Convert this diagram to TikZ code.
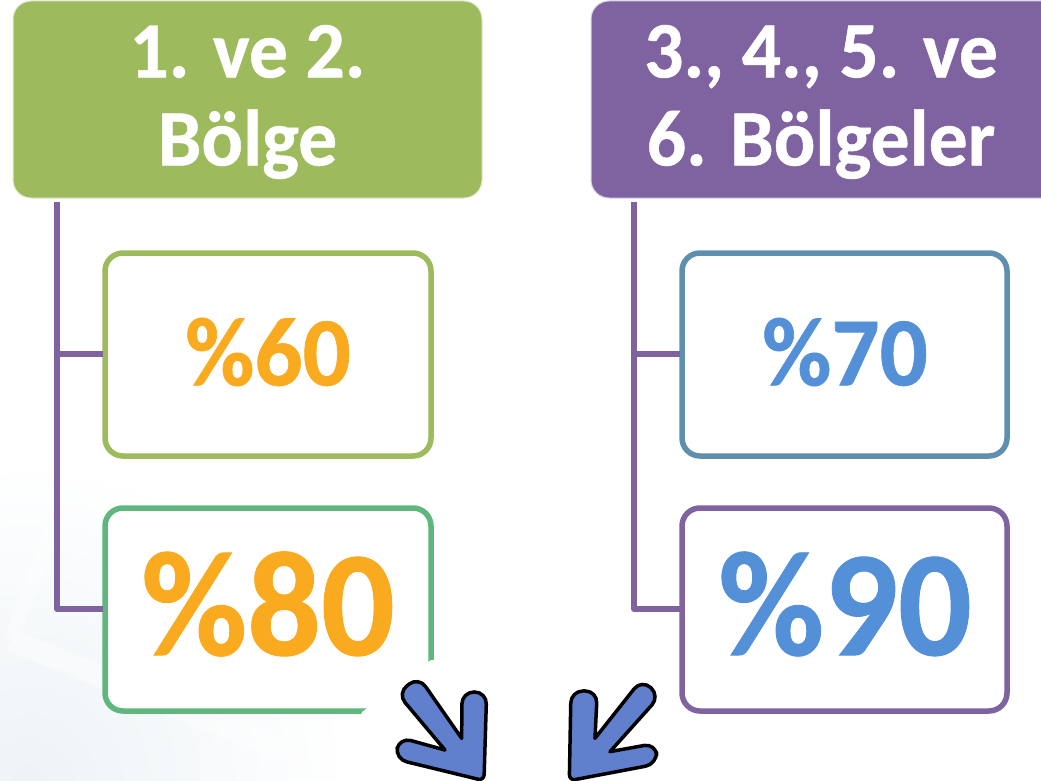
\documentclass[tikz,border=0pt]{standalone}
\usepackage{fontspec}
\setmainfont{Carlito}[BoldFeatures={FakeStretch=0.97,FakeBold=0.6}]
\definecolor{hgreen}{HTML}{9DBB5C}
\definecolor{hpurple}{HTML}{7F63A1}
\definecolor{bgreen}{HTML}{5FB77F}
\definecolor{bblue}{HTML}{5F8FAF}
\definecolor{torange}{HTML}{FAAA1E}
\definecolor{tblue}{HTML}{5490D8}
\definecolor{arrowblue}{HTML}{6080CE}
\definecolor{wash}{HTML}{EDF3F6}
\tikzset{
 x=1pt,y=-1pt,
 header/.style={rounded corners=18pt,line width=1pt,inner sep=0pt},
 valbox/.style={rounded corners=18pt,fill=white,line width=5.5pt},
 head/.style={text=white,font=\bfseries\fontsize{80}{88}\selectfont,align=center},
 link/.style={draw=hpurple,line width=5.5pt,line join=round},
 bigarrow/.style={draw=black,fill=arrowblue,line width=3.5pt,line join=round},
}
\begin{document}
\begin{tikzpicture}
\useasboundingbox (0,0) rectangle (1041,781);
\fill[white] (0,0) rectangle (1041,781);
% faint background wash, lower left
\begin{scope}
\clip (0,0) rectangle (1041,781);
\shade[inner color=wash,outer color=white] (30,781) circle[radius=320pt];
\draw[white,opacity=.4,line width=22pt] (10,640) -- (360,781);
\draw[white,opacity=.35,line width=14pt] (75,470) -- (10,640);
\draw[white,opacity=.35,line width=16pt] (360,720) -- (320,781);
\end{scope}
\coordinate (s1) at (57,202);
\coordinate (s2) at (634,202);
\coordinate (j1) at (57,354);
\coordinate (c1) at (57,609);
\coordinate (j2) at (634,354);
\coordinate (c2) at (634,609);
% headers
\path[fill=hgreen,draw=white!70!hgreen,header] (13,1) rectangle (482,198);
\path[fill=hpurple,draw=white!70!hpurple,header] (591,1) rectangle (1060,198);
\node[head] (h1) at (247.5,102) {1. ve 2.\\Bölge};
\node[head] (h2) at (821,102) {3., 4., 5. ve\\6. Bölgeler};
% value boxes
\draw[valbox,draw=hgreen] (105,253) rectangle (431,456);
\draw[valbox,draw=bgreen] (105,508) rectangle (431,711);
\draw[valbox,draw=bblue] (682,253) rectangle (1007,456);
\draw[valbox,draw=hpurple] (682,508) rectangle (1007,711);
\coordinate (b1) at (103,354);
\coordinate (b2) at (103,609);
\coordinate (b3) at (680,354);
\coordinate (b4) at (680,609);
\node[text=torange,font=\bfseries\fontsize{98}{98}\selectfont] (v1) at (268,352) {\%60};
\node[text=torange,font=\bfseries\fontsize{150}{150}\selectfont] (v2) at (268,604) {\%80};
\node[text=tblue,font=\bfseries\fontsize{98}{98}\selectfont] (v3) at (845,352) {\%70};
\node[text=tblue,font=\bfseries\fontsize{150}{150}\selectfont] (v4) at (845,604) {\%90};
\draw[link] (s1) -- (c1) -- (b2);
\draw[link] (j1) -- (b1);
\draw[link] (s2) -- (c2) -- (b4);
\draw[link] (j2) -- (b3);
% white halo behind the arrows hides the corner of the box
\fill[white] (362,712) -- (431,660) -- (470,660) -- (615,650) -- (676,695) -- (676,781) -- (340,781) -- cycle;
% arrows
\begin{scope}[shift={(340,620)},x=0.3333pt,y=-0.3333pt]
\draw[bigarrow,rounded corners=12pt] (172,220) -- (236,170) [sharp corners] -- (365,355) [rounded corners=12pt] -- (366,216) -- (440,216) [rounded corners=6pt] -- (432,482) [rounded corners=12pt] -- (165,417) -- (178,352) [sharp corners] -- (315,390) [rounded corners=12pt] -- cycle;
\draw[bigarrow,rounded corners=12pt] (905,178) -- (960,228) [sharp corners] -- (810,395) [rounded corners=12pt] -- (948,370) -- (952,432) [rounded corners=6pt] -- (688,482) [rounded corners=12pt] -- (693,213) -- (772,213) [sharp corners] -- (765,355) [rounded corners=12pt] -- cycle;
\end{scope}
\end{tikzpicture}
\end{document}
